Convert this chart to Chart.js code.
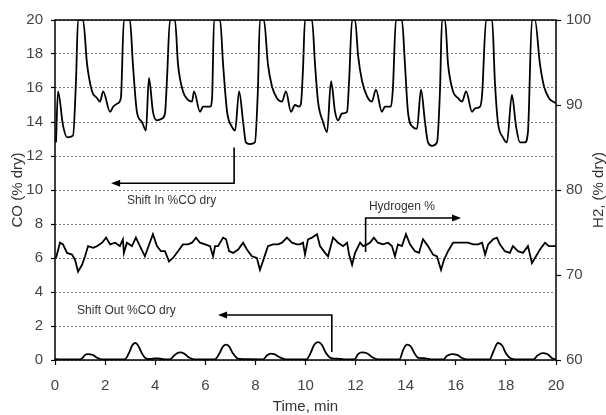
<!DOCTYPE html>
<html>
<head>
<meta charset="utf-8">
<script src="https://cdn.jsdelivr.net/npm/chart.js@4.4.1/dist/chart.umd.min.js"></script>
<style>
html, body { margin: 0; padding: 0; background: #fff; }
</style>
</head>
<body>
<canvas id="chart" width="606" height="415"></canvas>
<script>
// Shift In %CO dry (left axis); peaks run off the top of the plot
var shiftInTime = [0.04, 0.12, 0.32, 0.48, 0.72, 0.84, 0.92, 1.12, 1.28, 1.48, 1.68, 1.80, 1.92, 2.20, 2.32, 2.51, 2.63,
    2.75, 2.99, 3.11, 3.27, 3.47, 3.63, 3.75, 3.91, 4.07, 4.27, 4.39, 4.47, 4.59, 4.79, 4.91, 5.11, 5.31, 5.47, 5.55,
    5.79, 5.91, 6.19, 6.27, 6.35, 6.59, 6.71, 6.87, 7.07, 7.19, 7.35, 7.51, 7.62, 7.78, 7.98, 8.10, 8.18, 8.34, 8.50,
    8.66, 8.86, 9.06, 9.22, 9.42, 9.58, 9.74, 9.82, 9.90, 9.98, 10.26, 10.38, 10.50, 10.70, 10.86, 11.02, 11.18, 11.30,
    11.46, 11.66, 11.74, 11.86, 11.98, 12.10, 12.26, 12.46, 12.65, 12.81, 13.05, 13.17, 13.41, 13.49, 13.61, 13.85,
    13.97, 14.09, 14.29, 14.45, 14.61, 14.77, 14.89, 15.05, 15.25, 15.37, 15.45, 15.57, 15.69, 15.89, 16.09, 16.25,
    16.41, 16.65, 16.77, 16.97, 17.05, 17.21, 17.45, 17.56, 17.68, 17.88, 18.04, 18.24, 18.40, 18.56, 18.76, 18.88,
    19.04, 19.16, 19.36, 19.52, 19.72, 19.88, 20.0];
var shiftInCO = [12.8, 15.8, 13.8, 13.1, 13.2, 16.5, 20, 20, 17.4, 15.8, 15.4, 15.2, 15.8, 14.6, 14.9, 15.1, 15.4,
    20, 20, 17.4, 14.6, 14.0, 13.5, 16.6, 14.6, 14.1, 14.2, 14.5, 16.5, 20, 20, 17.4, 15.8, 15.3, 15.2, 15.8,
    14.6, 14.9, 14.9, 15.4, 20, 20, 17.4, 14.6, 13.7, 13.5, 15.8, 14.0, 12.8, 12.7, 12.8, 15.9, 20, 20, 17.4,
    16.1, 15.4, 15.2, 15.8, 14.6, 15.0, 14.9, 15.1, 17.1, 20, 20, 17.4, 15.2, 14.0, 13.4, 16.4, 14.6, 14.1,
    14.5, 14.6, 16.4, 20, 20, 17.9, 16.4, 15.5, 15.2, 15.9, 14.6, 14.9, 14.9, 16.0, 20, 20,
    17.4, 14.6, 13.7, 13.6, 15.9, 14.0, 12.8, 12.6, 12.8, 15.9, 20, 20, 17.4, 15.8, 15.4, 15.2,
    15.8, 14.6, 14.8, 14.9, 15.6, 20, 20, 16.4, 14.0, 13.1, 12.8, 15.6, 13.8, 12.8, 12.8, 13.4,
    20, 20, 17.4, 16.1, 15.4, 15.2, 15.1];

// Hydrogen % (right axis)
var h2Time = [0.04, 0.20, 0.32, 0.48, 0.68, 0.80, 0.92, 1.08, 1.20, 1.32, 1.52, 1.68, 1.88, 2.04, 2.20, 2.40, 2.59,
    2.71, 2.75, 2.87, 3.07, 3.23, 3.39, 3.59, 3.71, 3.91, 4.07, 4.23, 4.39, 4.55, 4.71, 4.91, 5.11, 5.31, 5.47, 5.63,
    5.79, 5.99, 6.19, 6.31, 6.39, 6.51, 6.71, 6.83, 6.95, 7.11, 7.31, 7.51, 7.66, 7.86, 8.06, 8.18, 8.30, 8.50, 8.70,
    8.90, 9.06, 9.26, 9.46, 9.66, 9.78, 9.90, 9.98, 10.10, 10.26, 10.46, 10.58, 10.78, 10.90, 11.10, 11.30, 11.50,
    11.66, 11.74, 11.86, 11.98, 12.18, 12.30, 12.46, 12.57, 12.73, 12.89, 13.09, 13.29, 13.45, 13.57, 13.69, 13.85,
    14.01, 14.17, 14.37, 14.53, 14.69, 14.89, 15.09, 15.25, 15.41, 15.53, 15.69, 15.89, 16.09, 16.29, 16.49, 16.69,
    16.89, 17.05, 17.17, 17.29, 17.49, 17.64, 17.76, 17.96, 18.16, 18.28, 18.48, 18.68, 18.88, 19.04, 19.16, 19.36,
    19.56, 19.72, 19.88, 20.0];
var h2Pct = [72.0, 73.8, 73.6, 72.6, 72.4, 71.8, 70.4, 71.2, 72.2, 73.4, 73.2, 73.4, 73.8, 74.4, 73.6, 73.8, 73.4,
    74.2, 72.6, 73.8, 73.4, 74.4, 73.4, 72.2, 73.2, 74.8, 73.4, 72.8, 72.8, 71.6, 72.0, 72.8, 73.6, 73.6, 73.8, 74.4,
    73.8, 73.6, 73.4, 72.2, 73.4, 73.4, 74.4, 74.2, 72.8, 72.6, 73.0, 73.8, 73.0, 72.2, 72.0, 70.6, 71.6, 73.4, 73.6,
    73.6, 73.8, 74.4, 73.8, 73.6, 73.6, 73.8, 72.4, 74.2, 74.4, 74.8, 73.4, 72.6, 72.2, 74.4, 73.8, 73.4,
    73.8, 72.4, 71.2, 72.6, 73.8, 73.4, 73.6, 73.8, 74.4, 73.8, 73.6, 73.8, 73.4, 72.2, 73.6, 73.4,
    74.8, 73.6, 72.8, 72.6, 74.2, 73.4, 72.4, 72.2, 70.6, 71.8, 72.8, 73.8, 73.8, 73.8, 73.8, 73.6,
    73.6, 73.8, 72.4, 73.6, 74.2, 74.4, 73.6, 72.8, 72.6, 73.4, 72.8, 72.6, 73.4, 71.4, 72.0, 73.0,
    73.8, 73.4, 73.4, 73.4];

// Shift Out %CO dry (left axis)
var shiftOutTime = [0, 0.5, 1.0, 1.1, 1.2, 1.32, 1.5, 1.7, 1.9, 2.75, 2.8, 2.95, 3.08, 3.19, 3.3, 3.45, 3.6, 3.7,
    3.9, 4.1, 4.3, 4.55, 4.6, 4.75, 4.9, 5.0, 5.15, 5.35, 5.55, 6.35, 6.4, 6.55, 6.7, 6.83, 6.95, 7.1, 7.3, 7.5,
    8.25, 8.3, 8.45, 8.6, 8.75, 8.95, 9.2, 10.0, 10.05, 10.2, 10.35, 10.5, 10.65, 10.8, 11.0, 11.2, 11.4, 11.6,
    11.95, 12.1, 12.26, 12.45, 12.65, 12.9, 13.75, 13.9, 14.05, 14.2, 14.35, 14.5, 14.8, 15.0, 15.5, 15.65, 15.85,
    16.05, 16.25, 16.45, 17.35, 17.5, 17.68, 17.85, 18.0, 18.2, 18.4, 19.1, 19.25, 19.45, 19.65, 19.85, 20.0];
var shiftOutCO = [0.05, 0.03, 0.03, 0.12, 0.3, 0.35, 0.3, 0.12, 0.04, 0.03, 0.04, 0.4, 0.85, 1.0, 0.9, 0.45, 0.12, 0.06,
    0.08, 0.1, 0.05, 0.03, 0.04, 0.25, 0.42, 0.45, 0.38, 0.15, 0.04, 0.03, 0.04, 0.35, 0.78, 0.9, 0.8, 0.4, 0.08, 0.05,
    0.04, 0.03, 0.25, 0.38, 0.35, 0.18, 0.04, 0.03, 0.04, 0.4, 0.9, 1.05, 0.9, 0.45, 0.12, 0.08, 0.06, 0.03,
    0.03, 0.35, 0.45, 0.4, 0.18, 0.04, 0.03, 0.6, 0.9, 0.8, 0.4, 0.12, 0.1, 0.04, 0.03, 0.25, 0.35,
    0.3, 0.12, 0.03, 0.03, 0.5, 1.0, 0.85, 0.4, 0.08, 0.03, 0.03, 0.25, 0.4, 0.35, 0.1, 0.03];

var xTicks = [0, 2, 4, 6, 8, 10, 12, 14, 16, 18, 20];

// labels + elbow arrows, in data units of the left axis
var NOTES = [
    {text: 'Shift In %CO dry', x: 2.87, y: 9.35},
    {text: 'Hydrogen %', x: 12.53, y: 9.0},
    {text: 'Shift Out %CO dry', x: 0.88, y: 2.9}
];
var ARROWS = [
    [[7.15, 12.5], [7.15, 10.4], [2.32, 10.4]],
    [[12.40, 6.35], [12.40, 8.35], [16.13, 8.35]],
    [[11.05, 0.47], [11.05, 2.65], [6.59, 2.65]]
];

var FONT = '"Liberation Sans", Arial, sans-serif';

function zip(xs, ys) {
    return xs.map(function(x, i) { return {x: x, y: ys[i]}; });
}

function fixWidth(w) {
    return function(scale) { scale.width = w; };
}

var overlay = {
    id: 'overlay',
    afterDatasetsDraw: function(chart) {
        var ctx = chart.ctx, a = chart.chartArea;
        var xs = chart.scales.x, ys = chart.scales.y;
        ctx.save();
        ctx.strokeStyle = '#000';
        ctx.lineWidth = 1.5;
        ctx.strokeRect(a.left, a.top, a.right - a.left, a.bottom - a.top);

        // arrows
        ctx.lineWidth = 1.6;
        ctx.fillStyle = '#000';
        ARROWS.forEach(function(path) {
            var pts = path.map(function(p) { return [xs.getPixelForValue(p[0]), ys.getPixelForValue(p[1])]; });
            ctx.beginPath();
            ctx.moveTo(pts[0][0], pts[0][1]);
            for (var i = 1; i < pts.length; i++) ctx.lineTo(pts[i][0], pts[i][1]);
            ctx.stroke();
            var p1 = pts[pts.length - 2], p2 = pts[pts.length - 1];
            var ang = Math.atan2(p2[1] - p1[1], p2[0] - p1[0]);
            ctx.save();
            ctx.translate(p2[0], p2[1]);
            ctx.rotate(ang);
            ctx.beginPath();
            ctx.moveTo(2, 0);
            ctx.lineTo(-7, -3.5);
            ctx.lineTo(-7, 3.5);
            ctx.closePath();
            ctx.fill();
            ctx.restore();
        });

        ctx.fillStyle = '#333';
        ctx.font = '12px ' + FONT;
        ctx.textAlign = 'left';
        ctx.textBaseline = 'middle';
        NOTES.forEach(function(n) {
            ctx.fillText(n.text, xs.getPixelForValue(n.x), ys.getPixelForValue(n.y));
        });

        // axis titles
        var midY = (a.top + a.bottom) / 2;
        ctx.font = '15px ' + FONT;
        ctx.textAlign = 'center';
        ctx.fillText('Time, min', (a.left + a.right) / 2, 407);
        ctx.save();
        ctx.translate(18, midY);
        ctx.rotate(-Math.PI / 2);
        ctx.fillText('CO (% dry)', 0, 0);
        ctx.restore();
        ctx.save();
        ctx.translate(599, midY);
        ctx.rotate(-Math.PI / 2);
        ctx.fillText('H2, (% dry)', 0, 0);
        ctx.restore();
        ctx.restore();
    }
};

var lineStyle = {
    borderColor: '#000',
    borderWidth: 1.8,
    pointRadius: 0,
    fill: false
};

new Chart(document.getElementById('chart'), {
    type: 'line',
    data: {
        datasets: [
            Object.assign({label: 'Shift In %CO dry', data: zip(shiftInTime, shiftInCO), yAxisID: 'y',
                cubicInterpolationMode: 'monotone'}, lineStyle),
            Object.assign({label: 'Hydrogen %', data: zip(h2Time, h2Pct), yAxisID: 'y2', tension: 0}, lineStyle),
            Object.assign({label: 'Shift Out %CO dry', data: zip(shiftOutTime, shiftOutCO), yAxisID: 'y',
                cubicInterpolationMode: 'monotone'}, lineStyle)
        ]
    },
    options: {
        responsive: false,
        animation: false,
        devicePixelRatio: 1,
        layout: {padding: {top: 20, left: 0, right: 0, bottom: 0}},
        plugins: {legend: {display: false}, tooltip: {enabled: false}},
        scales: {
            x: {
                type: 'linear', min: 0, max: 20,
                afterBuildTicks: function(scale) { scale.ticks = xTicks.map(function(v) { return {value: v}; }); },
                afterFit: function(scale) { scale.height = 55; },
                grid: {drawOnChartArea: false, drawTicks: true, tickLength: 5, tickColor: '#000', tickWidth: 1.2},
                border: {display: false},
                ticks: {color: '#444', font: {family: FONT, size: 15}, padding: 12, maxRotation: 0}
            },
            y: {
                position: 'left', min: 0, max: 20,
                afterFit: fixWidth(55),
                grid: {color: '#777', lineWidth: 1, tickLength: 4, tickColor: '#000', tickWidth: 1.2},
                border: {display: false, dash: [2, 2]},
                ticks: {stepSize: 2, color: '#444', font: {family: FONT, size: 15}, padding: 8}
            },
            y2: {
                position: 'right', min: 60, max: 100,
                afterFit: fixWidth(50),
                grid: {drawOnChartArea: false, tickLength: 5, tickColor: '#000', tickWidth: 1.2},
                border: {display: false},
                ticks: {stepSize: 10, color: '#444', font: {family: FONT, size: 15}, padding: 5}
            }
        }
    },
    plugins: [overlay]
});
</script>
</body>
</html>
